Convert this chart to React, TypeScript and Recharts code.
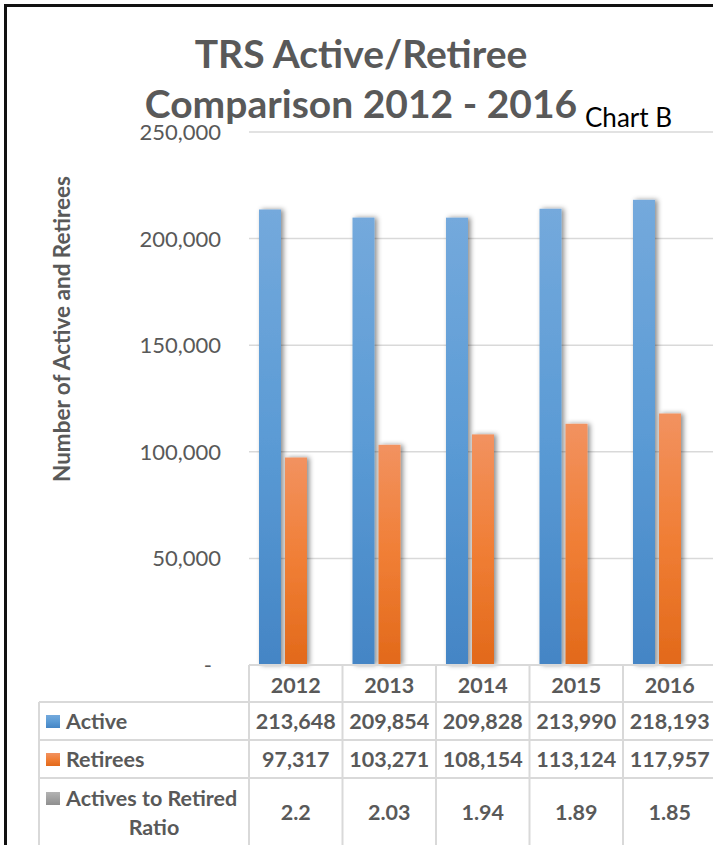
import React from "react";
import { BarChart, Bar, XAxis, YAxis, CartesianGrid } from "recharts";

const years = ["2012", "2013", "2014", "2015", "2016"];
const activeValues = [213648, 209854, 209828, 213990, 218193];
const retireeValues = [97317, 103271, 108154, 113124, 117957];
const ratioValues = [2.2, 2.03, 1.94, 1.89, 1.85];
const yTicks = [0, 50000, 100000, 150000, 200000, 250000];
const seriesNames = ["Active", "Retirees", "Actives to Retired Ratio"];

const data = years.map((y, i) => ({
  year: y,
  active: activeValues[i],
  retirees: retireeValues[i],
  ratio: ratioValues[i],
}));

const FONT = "Lato, 'Open Sans', sans-serif";
const GRAY = "#595959";
const LINE = "#d9d9d9";
const CHART_W = 730;
const CHART_H = 845;
const Y_AXIS_W = 249;
const X_AXIS_H = 180;
const MARGIN = { top: 132, right: 13.5, left: 0, bottom: 0 };
const COL_W = (CHART_W - MARGIN.left - MARGIN.right - Y_AXIS_W) / years.length;
const ROW_LEFT = 39;

const fmt = (v: number) => v.toLocaleString("en-US");

const ShadowBar = (props: any) => {
  const { x, y, width, height, fill } = props;
  if (width == null || height == null) return null;
  return <rect x={x} y={y} width={width} height={Math.max(height, 0)} fill={fill} filter="url(#barShadow)" />;
};

const YTick = (props: any) => {
  const { x, y, payload } = props;
  const isZero = payload.value === 0;
  return (
    <text
      x={x - (isZero ? 37 : 28)}
      y={y}
      dy="0.36em"
      textAnchor="end"
      fontFamily={FONT}
      fontSize={22}
      fill={GRAY}
    >
      {isZero ? "-" : fmt(payload.value)}
    </text>
  );
};

const keyFills = ["url(#gBlue)", "url(#gOrange)", "url(#gGray)"];

const TableTick = (props: any) => {
  const { x, y, payload, index } = props;
  const i = index ?? years.indexOf(payload.value);
  const left = x - COL_W / 2;
  const right = x + COL_W / 2;
  const bottom = y + X_AXIS_H + 10;
  const txt = {
    fontFamily: FONT,
    fontSize: 21.5,
    fontWeight: 700,
    fill: GRAY,
    textAnchor: "middle" as const,
  };
  return (
    <g>
      <line x1={left} x2={left} y1={y} y2={bottom} stroke={LINE} strokeWidth={2} />
      {i === years.length - 1 && (
        <line x1={right} x2={right} y1={y} y2={bottom} stroke={LINE} strokeWidth={2} />
      )}
      {[37, 75, 113].map((d) => (
        <line key={d} x1={left} x2={right} y1={y + d} y2={y + d} stroke={LINE} strokeWidth={2} />
      ))}
      <text x={x} y={y + 20} dy="0.36em" {...txt}>{payload.value}</text>
      <text x={x} y={y + 56} dy="0.36em" {...txt}>{fmt(activeValues[i])}</text>
      <text x={x} y={y + 94} dy="0.36em" {...txt}>{fmt(retireeValues[i])}</text>
      <text x={x} y={y + 147} dy="0.36em" {...txt}>{String(ratioValues[i])}</text>
      {i === 0 && (
        <g>
          {[37, 75, 113].map((d) => (
            <line key={d} x1={ROW_LEFT} x2={left} y1={y + d} y2={y + d} stroke={LINE} strokeWidth={2} />
          ))}
          <line x1={ROW_LEFT} x2={ROW_LEFT} y1={y + 37} y2={bottom} stroke={LINE} strokeWidth={2} />
          <rect x={46} y={y + 50} width={14} height={13} fill={keyFills[0]} />
          <rect x={46} y={y + 88} width={14} height={13} fill={keyFills[1]} />
          <rect x={46} y={y + 127} width={14} height={13} fill={keyFills[2]} />
          <text x={66} y={y + 56} dy="0.36em" {...txt} textAnchor="start">{seriesNames[0]}</text>
          <text x={66} y={y + 94} dy="0.36em" {...txt} textAnchor="start">{seriesNames[1]}</text>
          <text x={66} y={y + 133} dy="0.36em" {...txt} textAnchor="start">Actives to Retired</text>
          <text x={154} y={y + 162} dy="0.36em" {...txt}>Ratio</text>
        </g>
      )}
    </g>
  );
};

export default function App() {
  return (
    <div
      style={{
        position: "absolute",
        left: 0,
        top: 0,
        width: 713,
        height: 845,
        overflow: "hidden",
        background: "#fff",
      }}
    >
      <BarChart
        width={CHART_W}
        height={CHART_H}
        data={data}
        margin={MARGIN}
        barCategoryGap={10}
        barGap={4}
      >
        <defs>
          <linearGradient id="gBlue" x1="0" y1="0" x2="0" y2="1">
            <stop offset="0%" stopColor="#74a9dc" />
            <stop offset="50%" stopColor="#5b9bd5" />
            <stop offset="100%" stopColor="#4485c5" />
          </linearGradient>
          <linearGradient id="gOrange" x1="0" y1="0" x2="0" y2="1">
            <stop offset="0%" stopColor="#f29260" />
            <stop offset="50%" stopColor="#f07e35" />
            <stop offset="100%" stopColor="#e2691a" />
          </linearGradient>
          <linearGradient id="gGray" x1="0" y1="0" x2="0" y2="1">
            <stop offset="0%" stopColor="#b3b3b3" />
            <stop offset="100%" stopColor="#8f8f8f" />
          </linearGradient>
          <filter id="barShadow" x="-60%" y="-10%" width="220%" height="120%">
            <feDropShadow dx="2.5" dy="0" stdDeviation="2.5" floodColor="#000" floodOpacity="0.45" />
          </filter>
        </defs>
        <CartesianGrid vertical={false} stroke={LINE} strokeWidth={1.5} />
        <XAxis
          dataKey="year"
          height={X_AXIS_H}
          axisLine={{ stroke: LINE, strokeWidth: 2 }}
          tickLine={false}
          tickSize={0}
          tickMargin={0}
          interval={0}
          tick={<TableTick />}
        />
        <YAxis
          width={Y_AXIS_W}
          domain={[0, 250000]}
          ticks={yTicks}
          axisLine={false}
          tickLine={false}
          tickSize={0}
          tickMargin={0}
          interval={0}
          tick={<YTick />}
        />
        <Bar dataKey="active" name={seriesNames[0]} fill="url(#gBlue)" shape={<ShadowBar />} isAnimationActive={false} />
        <Bar dataKey="retirees" name={seriesNames[1]} fill="url(#gOrange)" shape={<ShadowBar />} isAnimationActive={false} />
        <Bar dataKey="ratio" name={seriesNames[2]} fill="url(#gGray)" shape={<ShadowBar />} isAnimationActive={false} />
      </BarChart>

      <svg
        width={713}
        height={845}
        style={{ position: "absolute", left: 0, top: 0, pointerEvents: "none" }}
      >
        <text x={361} y={68} textAnchor="middle" fontFamily={FONT} fontWeight={700} fontSize={39} fill={GRAY}>
          TRS Active/Retiree
        </text>
        <text x={361} y={118} textAnchor="middle" fontFamily={FONT} fontWeight={700} fontSize={39} fill={GRAY}>
          Comparison 2012 - 2016
        </text>
        <text x={585} y={127} fontFamily={FONT} fontSize={26} fill="#000">
          Chart B
        </text>
        <text
          x={0}
          y={0}
          transform="translate(70 329) rotate(-90)"
          textAnchor="middle"
          fontFamily={FONT}
          fontWeight={700}
          fontSize={22.5}
          fill={GRAY}
        >
          Number of Active and Retirees
        </text>
        <line x1={5.5} x2={5.5} y1={4} y2={845} stroke="#111" strokeWidth={3} />
        <line x1={4} x2={713} y1={5.5} y2={5.5} stroke="#111" strokeWidth={3} />
      </svg>
    </div>
  );
}
